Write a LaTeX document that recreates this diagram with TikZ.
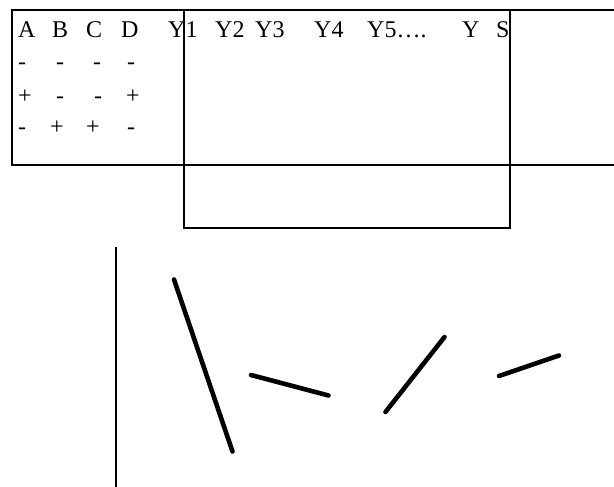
\documentclass[tikz,border=0pt]{standalone}
\usepackage{fontspec}
\setmainfont{Liberation Serif}
\begin{document}
\begin{tikzpicture}[x=1pt,y=-1pt,
  lbl/.style={anchor=base west,inner sep=0pt,font=\fontsize{24}{28}\selectfont},
  frame/.style={line width=2pt},
  axisline/.style={line width=1.7pt},
  seg/.style={line width=4.6pt,line cap=round}]
\useasboundingbox (0,0) rectangle (614,487);
% boxes
\draw[frame] (616,10) -- (12,10) -- (12,165) -- (616,165);
\draw[frame] (184,10) rectangle (510,228);
% header
\node[lbl] (hA) at (18,38) {A};
\node[lbl] (hB) at (52,38) {B};
\node[lbl] (hC) at (86,38) {C};
\node[lbl] (hD) at (121,38) {D};
\node[lbl] (y1) at (168,38) {Y1};
\node[lbl] (y2) at (215,38) {Y2};
\node[lbl] (y3) at (255,38) {Y3};
\node[lbl] (y4) at (314,38) {Y4};
\node[lbl] (y5) at (367,38) {Y5….};
\node[lbl] (yy) at (462,38) {Y};
\node[lbl] (ys) at (496,38) {S};
% rows
\node[lbl] (r1a) at (18,70) {-};
\node[lbl] (r1b) at (56,70) {-};
\node[lbl] (r1c) at (93,70) {-};
\node[lbl] (r1d) at (127,70) {-};
\node[lbl] (r2a) at (18,103) {+};
\node[lbl] (r2b) at (56,103) {-};
\node[lbl] (r2c) at (94,103) {-};
\node[lbl] (r2d) at (126,103) {+};
\node[lbl] (r3a) at (18,135) {-};
\node[lbl] (r3b) at (50,135) {+};
\node[lbl] (r3c) at (86,135) {+};
\node[lbl] (r3d) at (127,135) {-};
% lower sketch
\draw[axisline] (116,247) -- (116,487);
\draw[seg] (174,279.5) -- (232.5,451.5);
\draw[seg] (251,375) -- (328.5,395.5);
\draw[seg] (385.5,412) -- (444.5,337);
\draw[seg] (499,376) -- (559,355.5);
\end{tikzpicture}
\end{document}
